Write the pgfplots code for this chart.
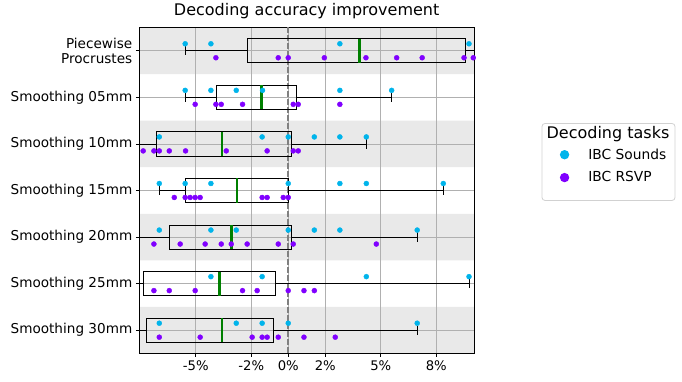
\documentclass[border=0pt]{standalone}
\usepackage{pgfplots}
\pgfplotsset{compat=1.18}
\usepgfplotslibrary{statistics}
\usepackage{fontspec}
\setmainfont{DejaVu Sans}
\definecolor{skyc}{RGB}{0,180,235}
\definecolor{purp}{RGB}{128,0,255}
\definecolor{medg}{RGB}{0,128,0}
\definecolor{bandg}{RGB}{233,233,233}
\definecolor{gridg}{RGB}{176,176,176}
\definecolor{zerog}{RGB}{128,128,128}
\begin{document}
\begin{tikzpicture}
\begin{axis}[
  set layers=standard,
  scale only axis,
  width=334.7pt, height=326pt,
  xmin=-8.05, xmax=10.04,
  ymin=-0.5, ymax=6.5,
  y dir=reverse,
  xtick={-5,-2,0,2,5,8},
  xticklabels={-5\%,-2\%,0\%,2\%,5\%,8\%},
  ytick={0,1,2,3,4,5,6},
  yticklabels={{Piecewise\\Procrustes},Smoothing 05mm,Smoothing 10mm,Smoothing 15mm,Smoothing 20mm,Smoothing 25mm,Smoothing 30mm},
  yticklabel style={align=right, font=\fontsize{13.6}{15}\selectfont},
  xticklabel style={font=\fontsize{13.2}{15}\selectfont},
  /pgf/number format/assume math mode=true,
  tick align=outside,
  xtick pos=bottom, ytick pos=left,
  major tick length=3.5pt,
  tick style={black, line width=0.8pt},
  axis line style={black, line width=0.8pt},
  grid=major,
  major grid style={gridg, line width=0.8pt},
  title={Decoding accuracy improvement},
  title style={font=\fontsize{16}{18}\selectfont, anchor=base, at={(axis description cs:0.5,1)}, yshift=6pt},
  boxplot/draw direction=x,
  boxplot/every median/.style={draw=medg, line width=2.6pt},
  legend style={at={(axis description cs:1.247,0.641)}, anchor=north west, draw=none, fill=none,
    font=\fontsize{13.8}{16}\selectfont, row sep=7pt},
  legend cell align=left,
]
% background bands
\addplot[on layer=axis background, fill=bandg, draw=none, forget plot] coordinates {(-8.05,-0.5) (10.04,-0.5) (10.04,0.5) (-8.05,0.5) (-8.05,-0.5)};
\addplot[on layer=axis background, fill=bandg, draw=none, forget plot] coordinates {(-8.05,1.5) (10.04,1.5) (10.04,2.5) (-8.05,2.5) (-8.05,1.5)};
\addplot[on layer=axis background, fill=bandg, draw=none, forget plot] coordinates {(-8.05,3.5) (10.04,3.5) (10.04,4.5) (-8.05,4.5) (-8.05,3.5)};
\addplot[on layer=axis background, fill=bandg, draw=none, forget plot] coordinates {(-8.05,5.5) (10.04,5.5) (10.04,6.5) (-8.05,6.5) (-8.05,5.5)};
% zero line
\addplot[zerog, line width=1.6pt, dash pattern=on 5.5pt off 2.5pt, forget plot] coordinates {(0,-0.5) (0,6.5)};
% boxes
\addplot[black, line width=0.8pt, forget plot, boxplot prepared={lower whisker=-5.57, lower quartile=-2.22, median=3.84, upper quartile=9.60, upper whisker=10.6, draw position=0, box extend=0.52, whisker extend=0.2}] coordinates {};
\addplot[black, line width=0.8pt, forget plot, boxplot prepared={lower whisker=-5.57, lower quartile=-3.89, median=-1.46, upper quartile=0.43, upper whisker=5.59, draw position=1, box extend=0.52, whisker extend=0.2}] coordinates {};
\addplot[black, line width=0.8pt, forget plot, boxplot prepared={lower whisker=-8.6, lower quartile=-7.14, median=-3.57, upper quartile=0.16, upper whisker=4.22, draw position=2, box extend=0.52, whisker extend=0.2}] coordinates {};
\addplot[black, line width=0.8pt, forget plot, boxplot prepared={lower whisker=-6.97, lower quartile=-5.57, median=-2.76, upper quartile=0.0, upper whisker=8.38, draw position=3, box extend=0.52, whisker extend=0.2}] coordinates {};
\addplot[black, line width=0.8pt, forget plot, boxplot prepared={lower whisker=-8.6, lower quartile=-6.41, median=-3.08, upper quartile=0.16, upper whisker=6.97, draw position=4, box extend=0.52, whisker extend=0.2}] coordinates {};
\addplot[black, line width=0.8pt, forget plot, boxplot prepared={lower whisker=-8.6, lower quartile=-7.84, median=-3.73, upper quartile=-0.70, upper whisker=9.78, draw position=5, box extend=0.52, whisker extend=0.2}] coordinates {};
\addplot[black, line width=0.8pt, forget plot, boxplot prepared={lower whisker=-8.6, lower quartile=-7.68, median=-3.59, upper quartile=-0.81, upper whisker=6.97, draw position=6, box extend=0.52, whisker extend=0.2}] coordinates {};
% IBC Sounds points
\addplot[only marks, mark=*, mark size=2.5pt, color=skyc, forget plot] coordinates {
(-5.57,-0.15) (-4.18,-0.15) (2.79,-0.15) (9.77,-0.15)
(-5.57,0.85) (-4.18,0.85) (-2.81,0.85) (-1.39,0.85) (2.79,0.85) (5.59,0.85)
(-6.97,1.85) (-1.41,1.85) (0,1.85) (1.41,1.85) (2.79,1.85) (4.22,1.85)
(-6.97,2.85) (-5.57,2.85) (-4.18,2.85) (0,2.85) (2.79,2.85) (4.22,2.85) (8.38,2.85)
(-6.97,3.85) (-4.18,3.85) (-2.81,3.85) (0,3.85) (1.41,3.85) (2.79,3.85) (6.97,3.85)
(-4.18,4.85) (-1.41,4.85) (4.22,4.85) (9.77,4.85)
(-6.97,5.85) (-2.81,5.85) (-1.41,5.85) (0,5.85) (6.97,5.85)
};
% IBC RSVP points
\addplot[only marks, mark=*, mark size=2.5pt, color=purp, forget plot] coordinates {
(-3.91,0.15) (-0.54,0.15) (0,0.15) (1.95,0.15) (4.20,0.15) (5.86,0.15) (7.24,0.15) (9.50,0.15) (10.0,0.15)
(-5.03,1.15) (-3.91,1.15) (-3.62,1.15) (-2.47,1.15) (0.27,1.15) (0.54,1.15) (2.79,1.15)
(-7.84,2.15) (-7.26,2.15) (-6.97,2.15) (-6.43,2.15) (-5.55,2.15) (-3.35,2.15) (-1.14,2.15) (0.27,2.15) (0.54,2.15)
(-6.16,3.15) (-5.57,3.15) (-5.30,3.15) (-5.03,3.15) (-4.76,3.15) (-1.41,3.15) (-1.14,3.15) (-0.27,3.15) (0,3.15)
(-7.26,4.15) (-5.84,4.15) (-4.49,4.15) (-3.62,4.15) (-3.08,4.15) (-2.22,4.15) (-0.54,4.15) (0.27,4.15) (4.76,4.15)
(-7.26,5.15) (-6.43,5.15) (-5.03,5.15) (-2.47,5.15) (-1.68,5.15) (0,5.15) (0.85,5.15) (1.41,5.15)
(-6.97,6.15) (-4.76,6.15) (-1.95,6.15) (-1.41,6.15) (-1.14,6.15) (-0.54,6.15) (0.85,6.15) (2.54,6.15)
};
\addlegendimage{legend image code/.code={\path[draw=none] (0pt,0pt) -- (21.7pt,0pt); \fill[skyc, draw=none] (0pt,0pt) circle (4.7pt);}}
\addlegendentry{IBC Sounds}
\addlegendimage{legend image code/.code={\path[draw=none] (0pt,0pt) -- (21.7pt,0pt); \fill[purp, draw=none] (0pt,0pt) circle (4.7pt);}}
\addlegendentry{IBC RSVP}
\end{axis}
\draw[rounded corners=3pt, color=black!18, line width=0.8pt] (402.7pt,153pt) rectangle (535.7pt,230pt);
\node[font=\fontsize{16}{18}\selectfont] at (468.7pt,219pt) {Decoding tasks};
\path (-139.3pt,-28pt) rectangle (542.7pt,351pt);
\end{tikzpicture}
\end{document}
